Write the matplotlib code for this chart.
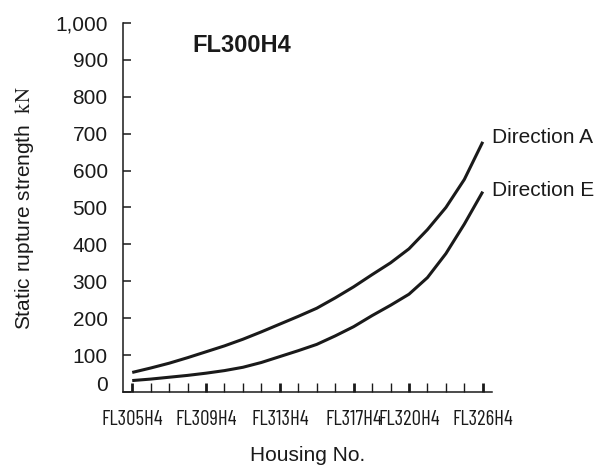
import matplotlib
matplotlib.use("Agg")
import matplotlib.pyplot as plt
import matplotlib.transforms as mtransforms
from matplotlib import font_manager

housing = ["FL305H4", "FL306H4", "FL307H4", "FL308H4", "FL309H4", "FL310H4",
           "FL311H4", "FL312H4", "FL313H4", "FL314H4", "FL315H4", "FL316H4",
           "FL317H4", "FL318H4", "FL319H4", "FL320H4", "FL321H4", "FL322H4",
           "FL324H4", "FL326H4"]
labelled = ["FL305H4", "FL309H4", "FL313H4", "FL317H4", "FL320H4", "FL326H4"]
direction_a = [53, 65, 78, 93, 109, 125, 143, 163, 184, 205, 227, 255, 285,
               318, 350, 388, 440, 500, 576, 678]
direction_e = [31, 35, 40, 45, 51, 58, 67, 80, 96, 112, 129, 152, 177, 207,
               235, 265, 310, 375, 455, 543]
yticks = [0, 100, 200, 300, 400, 500, 600, 700, 800, 900, 1000]

names = {f.name for f in font_manager.fontManager.ttflist}
sans = "Liberation Sans" if "Liberation Sans" in names else "DejaVu Sans"
narrow = sans
for cand in ["Barlow Condensed", "Archivo Narrow", "Roboto Condensed",
             "Barlow Semi Condensed", "Liberation Sans Narrow"]:
    if cand in names:
        narrow = cand
        break
plt.rcParams["font.family"] = [sans, "DejaVu Sans"]
plt.rcParams["mathtext.fontset"] = "stix"

ink = "#1a1a1a"
fig = plt.figure(figsize=(6.07, 4.65), dpi=100)
ax = fig.add_axes([123 / 607, 73 / 465, 369 / 607, 369 / 465])

x = list(range(len(housing)))
ax.plot(x, direction_a, color=ink, lw=2.2, solid_joinstyle="round",
        solid_capstyle="butt")
ax.plot(x, direction_e, color=ink, lw=2.2, solid_joinstyle="round",
        solid_capstyle="butt")

ax.set_xlim(-0.5, len(housing) - 0.5)
ax.set_ylim(0, 1000)

for s in ["top", "right"]:
    ax.spines[s].set_visible(False)
for s in ["left", "bottom"]:
    ax.spines[s].set_linewidth(1.1)
    ax.spines[s].set_color(ink)

ax.set_yticks(yticks)
ax.set_yticklabels([f"{v:,}" for v in yticks])
ax.tick_params(axis="y", direction="in", length=6, width=1.1, pad=11,
               labelsize=15, color=ink, labelcolor=ink)
off = mtransforms.ScaledTranslation(0, 9 / 100, fig.dpi_scale_trans)
lbl0 = ax.get_yticklabels()[0]
lbl0.set_transform(lbl0.get_transform() + off)

major_idx = [housing.index(h) for h in labelled]
minor_idx = [i for i in x if i not in major_idx]
ax.set_xticks(major_idx)
ax.set_xticklabels(labelled, family=[narrow, "DejaVu Sans"])
ax.set_xticks(minor_idx, minor=True)
ax.tick_params(axis="x", which="major", direction="in", length=6.5, width=2.0,
               pad=13, labelsize=15, color=ink, labelcolor=ink)
ax.tick_params(axis="x", which="minor", direction="in", length=6.5, width=1.0,
               color=ink)

ax.set_xlabel("Housing No.", fontsize=15, color=ink, labelpad=12.5)
ax.set_ylabel(r"Static rupture strength  $\mathrm{kN}$", fontsize=15,
              color=ink, labelpad=14)

ax.text(0.187, 0.94, "FL300H4", transform=ax.transAxes, fontsize=17,
        fontweight="bold", ha="left", va="center", color=ink)

ax.annotate("Direction A", xy=(x[-1], direction_a[-1]), xytext=(7, 3),
            textcoords="offset points", fontsize=15, ha="left", va="center",
            color=ink)
ax.annotate("Direction E", xy=(x[-1], direction_e[-1]), xytext=(7, 1),
            textcoords="offset points", fontsize=15, ha="left", va="center",
            color=ink)

fig.savefig("out.png", dpi=100)
